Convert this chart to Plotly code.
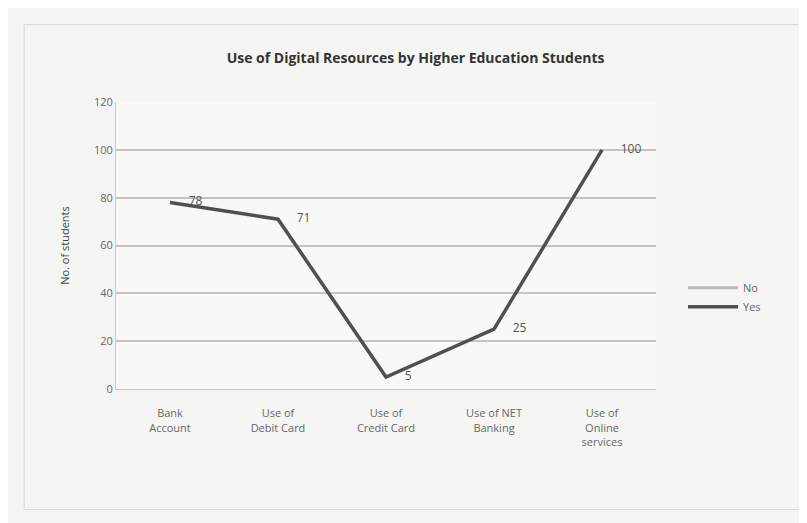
import plotly.graph_objects as go

categories = ["Bank<br>Account", "Use of<br>Debit Card", "Use of<br>Credit Card",
              "Use of NET<br>Banking", "Use of<br>Online<br>services"]
yes_values = [78, 71, 5, 25, 100]
yes_labels = ["78", "71", "5", "25", "100"]
y_ticks = [0, 20, 40, 60, 80, 100, 120]

font_family = "Open Sans, Lato, DejaVu Sans, sans-serif"

fig = go.Figure()
fig.add_trace(go.Scatter(
    x=categories, y=[None] * len(categories), name="No", mode="lines",
    line=dict(color="#b8b8b8", width=3),
))
fig.add_trace(go.Scatter(
    x=categories, y=yes_values, name="Yes", mode="lines+text",
    line=dict(color="#505050", width=3.5),
    text=["      " + t for t in yes_labels], textposition="middle right",
    textfont=dict(size=12, color="#555555", family=font_family),
    cliponaxis=False,
))

fig.update_layout(
    width=807, height=523,
    margin=dict(l=108, r=159, t=94, b=142),
    paper_bgcolor="#f5f6f3",
    plot_bgcolor="#f8f9f6",
    title=dict(text="<b>Use of Digital Resources by Higher Education Students</b>",
               x=0.505, xanchor="center", y=0.905, yanchor="middle",
               font=dict(size=14, color="#333333", family=font_family)),
    font=dict(family=font_family, color="#555555", size=12),
    showlegend=True,
    legend=dict(x=1.05, y=0.32, xanchor="left", yanchor="middle",
                bgcolor="rgba(0,0,0,0)", font=dict(size=11, color="#666666"),
                itemwidth=50, tracegroupgap=6),
    xaxis=dict(type="category", categoryorder="array", categoryarray=categories,
               range=[-0.5, 4.5], ticklabelstandoff=14,
               showgrid=False, showline=True, linecolor="#c8c8c8",
               ticks="", tickfont=dict(size=11, color="#666666")),
    yaxis=dict(range=[0, 120], tickvals=y_ticks, showgrid=True,
               gridcolor="#c4c4c4", gridwidth=1.5, zeroline=False,
               showline=True, linecolor="#c8c8c8",
               tickfont=dict(size=11, color="#666666"),
               title=dict(text="No. of students", font=dict(size=11, color="#444444"),
                          standoff=22)),
)
fig.add_shape(type="rect", xref="paper", yref="paper",
              x0=-0.17, x1=1.27, y0=-0.42, y1=1.27,
              line=dict(color="#d8d8d8", width=1))

fig.write_html("out.html")
